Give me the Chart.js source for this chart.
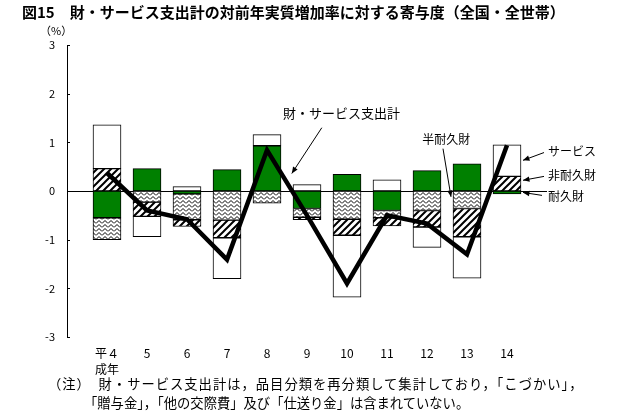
<!DOCTYPE html>
<html>
<head>
<meta charset="utf-8">
<script src="https://cdn.jsdelivr.net/npm/chart.js@4"></script>
<style>
  body { margin: 0; background: #fff; font-family: "Noto Sans CJK JP", sans-serif; }
  #wrap { position: relative; width: 635px; height: 416px; }
  #chart { position: absolute; left: 0; top: 0; }
  .txt { position: absolute; white-space: nowrap; color: #000; line-height: 1; }
  #title { left: 22px; top: 4px; font-size: 15px; font-weight: bold; }
  #unit { left: 40px; top: 25px; font-size: 11px; }
  #note1 { left: 48px; top: 377px; font-size: 13.3px; letter-spacing: 1px; }
  #note2 { left: 84px; top: 396px; font-size: 13.3px; }
</style>
</head>
<body>
<div id="wrap">
  <canvas id="chart" width="635" height="416"></canvas>
  <div class="txt" id="title">図15　財・サービス支出計の対前年実質増加率に対する寄与度（全国・全世帯）</div>
  <div class="txt" id="unit">（%）</div>
  <div class="txt" id="note1">（注）　財・サービス支出計は，品目分類を再分類して集計しており，「こづかい」，</div>
  <div class="txt" id="note2">「贈与金」，「他の交際費」及び「仕送り金」は含まれていない。</div>
</div>
<script>
// 年（平成）
const years = ['平４', '5', '6', '7', '8', '9', '10', '11', '12', '13', '14'];

// 寄与度（%）
const durable  = [-0.55, 0.46, -0.06, 0.44, 0.93, -0.36, 0.34, -0.40, 0.42, 0.56, -0.06];
const semiDur  = [-0.45, -0.23, -0.53, -0.60, -0.25, -0.18, -0.58, -0.15, -0.40, -0.36, 0];
const nonDur   = [0.46, -0.29, -0.14, -0.36, 0, -0.05, -0.33, -0.17, -0.34, -0.58, 0.30];
const services = [0.90, -0.42, 0.09, -0.84, 0.23, 0.13, -1.27, 0.23, -0.42, -0.85, 0.65];
const total    = [0.37, -0.40, -0.58, -1.41, 0.84, -0.50, -1.90, -0.50, -0.67, -1.30, 0.94];

const yTicks = [-3, -2, -1, 0, 1, 2, 3];

const FONT = '"Noto Sans CJK JP", sans-serif';

// 波線パターン（半耐久財）
function wavePattern() {
	const c = document.createElement('canvas');
	c.width = 6; c.height = 4;
	const g = c.getContext('2d');
	g.fillStyle = '#fff';
	g.fillRect(0, 0, 6, 4);
	g.strokeStyle = '#000';
	g.lineWidth = 1;
	g.beginPath();
	g.moveTo(0, 3.5); g.lineTo(3, 0.5); g.lineTo(6, 3.5);
	g.stroke();
	return g.createPattern(c, 'repeat');
}

// 斜線パターン（非耐久財）
function hatchPattern() {
	const c = document.createElement('canvas');
	c.width = 7; c.height = 7;
	const g = c.getContext('2d');
	g.fillStyle = '#fff';
	g.fillRect(0, 0, 7, 7);
	g.strokeStyle = '#000';
	g.lineWidth = 2;
	g.beginPath();
	g.moveTo(-1, 8); g.lineTo(8, -1);
	g.moveTo(-4, 4); g.lineTo(4, -4);
	g.moveTo(3, 11); g.lineTo(11, 3);
	g.stroke();
	return g.createPattern(c, 'repeat');
}

const toXY = arr => arr.map((v, i) => ({ x: i, y: v }));

function arrow(ctx, x1, y1, x2, y2) {
	const a = Math.atan2(y2 - y1, x2 - x1);
	ctx.beginPath();
	ctx.moveTo(x1, y1);
	ctx.lineTo(x2, y2);
	ctx.stroke();
	ctx.beginPath();
	ctx.moveTo(x2, y2);
	ctx.lineTo(x2 - 7 * Math.cos(a - 0.4), y2 - 7 * Math.sin(a - 0.4));
	ctx.lineTo(x2 - 7 * Math.cos(a + 0.4), y2 - 7 * Math.sin(a + 0.4));
	ctx.closePath();
	ctx.fill();
}

// ゼロ線・目盛り・注記
const extras = {
	id: 'extras',
	beforeDatasetsDraw(chart) {
		const { ctx, chartArea, scales: { y } } = chart;
		ctx.save();
		ctx.strokeStyle = '#000';
		ctx.lineWidth = 1;
		ctx.beginPath();
		ctx.moveTo(chartArea.left, Math.round(y.getPixelForValue(0)) + 0.5);
		ctx.lineTo(chartArea.right, Math.round(y.getPixelForValue(0)) + 0.5);
		yTicks.forEach(t => {
			const py = Math.round(y.getPixelForValue(t)) + 0.5;
			ctx.moveTo(chartArea.left, py);
			ctx.lineTo(chartArea.left + 3, py);
		});
		ctx.stroke();
		ctx.restore();
	},
	afterDatasetsDraw(chart) {
		const { ctx, scales: { x, y } } = chart;
		const barRight = x.getPixelForValue(10) + 16;
		ctx.save();
		ctx.fillStyle = '#000';
		ctx.strokeStyle = '#000';
		ctx.lineWidth = 1;
		ctx.textBaseline = 'middle';
		ctx.textAlign = 'left';

		ctx.font = '13px ' + FONT;
		ctx.fillText('財・サービス支出計', x.getPixelForValue(4.4), y.getPixelForValue(1.6));
		arrow(ctx, x.getPixelForValue(5.37), y.getPixelForValue(1.3), x.getPixelForValue(4.62), y.getPixelForValue(0.36));

		ctx.font = '12px ' + FONT;
		ctx.fillText('半耐久財', x.getPixelForValue(7.88), y.getPixelForValue(1.05));
		arrow(ctx, x.getPixelForValue(8.4), y.getPixelForValue(0.87), x.getPixelForValue(8.6), y.getPixelForValue(-0.12));

		const lx = x.getPixelForValue(11) + 1;
		ctx.fillText('サービス', lx, y.getPixelForValue(0.82));
		arrow(ctx, lx - 4, y.getPixelForValue(0.79), barRight, y.getPixelForValue(0.63));
		ctx.fillText('非耐久財', lx, y.getPixelForValue(0.32));
		arrow(ctx, lx - 4, y.getPixelForValue(0.30), barRight, y.getPixelForValue(0.22));
		ctx.fillText('耐久財', lx, y.getPixelForValue(-0.11));
		arrow(ctx, lx - 6, y.getPixelForValue(-0.09), barRight, y.getPixelForValue(-0.03));
		ctx.restore();
	}
};

const barCommon = {
	type: 'bar',
	borderColor: '#000',
	borderWidth: 1,
	borderSkipped: false,
	barThickness: 28,
	stack: 'parts',
	order: 1
};

new Chart(document.getElementById('chart'), {
	data: {
		datasets: [
			{ ...barCommon, label: '耐久財', data: toXY(durable), backgroundColor: '#008000' },
			{ ...barCommon, label: '半耐久財', data: toXY(semiDur), backgroundColor: wavePattern() },
			{ ...barCommon, label: '非耐久財', data: toXY(nonDur), backgroundColor: hatchPattern() },
			{ ...barCommon, label: 'サービス', data: toXY(services), backgroundColor: '#fff' },
			{
				type: 'line',
				label: '財・サービス支出計',
				data: toXY(total),
				borderColor: '#000',
				borderWidth: 4.5,
				pointRadius: 0,
				tension: 0,
				stack: 'total',
				order: 0
			}
		]
	},
	options: {
		responsive: false,
		animation: false,
		layout: { padding: { top: 45, right: 88, left: 0, bottom: 0 } },
		plugins: {
			legend: { display: false },
			tooltip: { enabled: false }
		},
		scales: {
			x: {
				type: 'linear',
				min: -1,
				max: 11,
				offset: false,
				stacked: true,
				grid: { display: false },
				border: { display: false },
				afterFit: s => { s.height = 79; },
				afterBuildTicks: s => { s.ticks = years.map((_, i) => ({ value: i })); },
				ticks: {
					color: '#000',
					font: { family: FONT, size: 12, lineHeight: 1.35 },
					padding: 0,
					maxRotation: 0,
					autoSkip: false,
					callback: v => v === 0 ? [years[0], '成年'] : years[v]
				}
			},
			y: {
				min: -3,
				max: 3,
				stacked: true,
				grid: { display: false },
				border: { display: true, color: '#000', width: 1 },
				afterFit: s => { s.width = 67; },
				afterBuildTicks: s => { s.ticks = yTicks.map(v => ({ value: v })); },
				ticks: {
					color: '#000',
					font: { family: FONT, size: 11 },
					padding: 4
				}
			}
		}
	},
	plugins: [extras]
});
</script>
</body>
</html>
